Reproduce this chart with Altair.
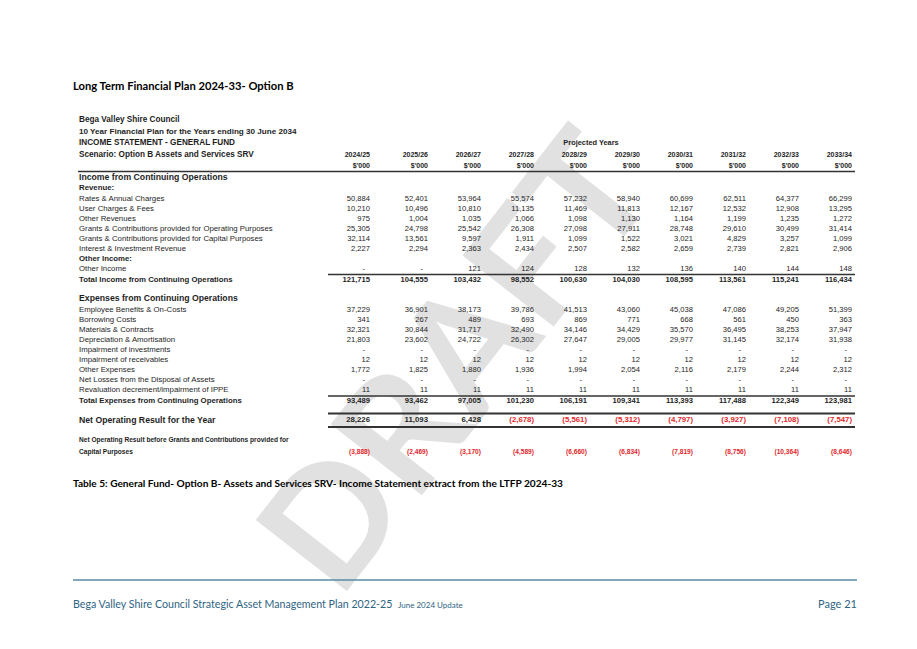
import altair as alt
import pandas as pd

# ---------------- data ----------------
years = ["2024/25", "2025/26", "2026/27", "2027/28", "2028/29",
         "2029/30", "2030/31", "2031/32", "2032/33", "2033/34"]

rates = [50884, 52401, 53964, 55574, 57232, 58940, 60699, 62511, 64377, 66299]
user_fees = [10210, 10496, 10810, 11135, 11469, 11813, 12167, 12532, 12908, 13295]
other_rev = [975, 1004, 1035, 1066, 1098, 1130, 1164, 1199, 1235, 1272]
grants_op = [25305, 24798, 25542, 26308, 27098, 27911, 28748, 29610, 30499, 31414]
grants_cap = [32114, 13561, 9597, 1911, 1099, 1522, 3021, 4829, 3257, 1099]
interest = [2227, 2294, 2363, 2434, 2507, 2582, 2659, 2739, 2821, 2906]
other_income = [0, 0, 121, 124, 128, 132, 136, 140, 144, 148]
total_income = [121715, 104555, 103432, 98552, 100630, 104030, 108595, 113561, 115241, 116434]

employee = [37229, 36901, 38173, 39786, 41513, 43060, 45038, 47086, 49205, 51399]
borrowing = [341, 267, 489, 693, 869, 771, 668, 561, 450, 363]
materials = [32321, 30844, 31717, 32490, 34146, 34429, 35570, 36495, 38253, 37947]
depreciation = [21803, 23602, 24722, 26302, 27647, 29005, 29977, 31145, 32174, 31938]
impair_inv = [0, 0, 0, 0, 0, 0, 0, 0, 0, 0]
impair_rec = [12, 12, 12, 12, 12, 12, 12, 12, 12, 12]
other_exp = [1772, 1825, 1880, 1936, 1994, 2054, 2116, 2179, 2244, 2312]
net_losses = [0, 0, 0, 0, 0, 0, 0, 0, 0, 0]
revaluation = [11, 11, 11, 11, 11, 11, 11, 11, 11, 11]
total_exp = [93489, 93462, 97005, 101230, 106191, 109341, 113393, 117488, 122349, 123981]

net_result = [28226, 11093, 6428, -2678, -5561, -5312, -4797, -3927, -7108, -7547]
net_before_grants = [-3888, -2469, -3170, -4589, -6660, -6834, -7819, -8756, -10364, -8646]

# ---------------- layout ----------------
W, H = 901, 633
LBL_X = 79
def col_right(j):
    return 370 if j == 0 else 428 + 53 * (j - 1)

BODY = "#1e1e1e"
RED = "#e3262a"
TEAL = "#2f6482"

recs = []
def add(layer, x, y, text, size, color=BODY, dx=0):
    recs.append(dict(layer=layer, x=x + dx, y=y, text=text, size=size, color=color))

def fmt(v):
    if v == 0:
        return "-"
    if v < 0:
        return f"({-v:,})"
    return f"{v:,}"

def value_row(y, vals, layer, size):
    for j, v in enumerate(vals):
        add(layer, col_right(j), y, fmt(v), size, RED if v < 0 else BODY,
            dx=-5 if v == 0 else 0)

# page heading
add("cal_b", 73, 87, "Long Term Financial Plan 2024-33- Option B", 11.2, "#000000")

# table header
add("lbl_b", LBL_X, 120, "Bega Valley Shire Council", 8.2)
add("lbl_b", LBL_X, 132, "10 Year Financial Plan for the Years ending 30 June 2034", 8.1)
add("lbl_b", LBL_X, 143, "INCOME STATEMENT - GENERAL FUND", 8.2)
add("lbl_b", LBL_X, 155, "Scenario: Option B Assets and Services SRV", 8.2)
add("ctr_b", 591, 143, "Projected Years", 7.4)
for j, yr in enumerate(years):
    add("num_b", col_right(j), 155, yr, 7.0)
    add("num_b", col_right(j), 166, "$'000", 7.0)

# income
add("lbl_b", LBL_X, 177, "Income from Continuing Operations", 8.7)
add("lbl_b", LBL_X, 188, "Revenue:", 7.8)
income_rows = [
    ("Rates & Annual Charges", rates, 199),
    ("User Charges & Fees", user_fees, 209),
    ("Other Revenues", other_rev, 219),
    ("Grants & Contributions provided for Operating Purposes", grants_op, 229),
    ("Grants & Contributions provided for Capital Purposes", grants_cap, 239),
    ("Interest & Investment Revenue", interest, 249),
]
for lbl, vals, y in income_rows:
    add("lbl", LBL_X, y, lbl, 7.8)
    value_row(y, vals, "num", 7.6)
add("lbl_b", LBL_X, 259, "Other Income:", 7.8)
add("lbl", LBL_X, 269, "Other Income", 7.8)
value_row(269, other_income, "num", 7.6)
add("lbl_b", LBL_X, 280, "Total Income from Continuing Operations", 7.8)
value_row(280, total_income, "num_b", 7.6)

# expenses
add("lbl_b", LBL_X, 298, "Expenses from Continuing Operations", 8.7)
exp_rows = [
    ("Employee Benefits & On-Costs", employee, 310),
    ("Borrowing Costs", borrowing, 320),
    ("Materials & Contracts", materials, 330),
    ("Depreciation & Amortisation", depreciation, 340),
    ("Impairment of investments", impair_inv, 350),
    ("Impairment of receivables", impair_rec, 360),
    ("Other Expenses", other_exp, 370),
    ("Net Losses from the Disposal of Assets", net_losses, 380),
    ("Revaluation decrement/impairment of IPPE", revaluation, 390),
]
for lbl, vals, y in exp_rows:
    add("lbl", LBL_X, y, lbl, 7.8)
    value_row(y, vals, "num", 7.6)
add("lbl_b", LBL_X, 401, "Total Expenses from Continuing Operations", 7.8)
value_row(401, total_exp, "num_b", 7.6)

add("lbl_b", LBL_X, 420, "Net Operating Result for the Year", 8.7)
value_row(420, net_result, "num_b", 7.8)

add("lbl_b", LBL_X, 440, "Net Operating Result before Grants and Contributions provided for", 6.6)
add("lbl_b", LBL_X, 452, "Capital Purposes", 6.6)
value_row(452, net_before_grants, "num_b", 6.6)

# caption + footer
add("cal_b", 73, 484, "Table 5: General Fund- Option B- Assets and Services SRV- Income Statement extract from the LTFP 2024-33", 10.15, "#000000")
add("cal", 73, 605, "Bega Valley Shire Council Strategic Asset Management Plan 2022-25", 10.65, TEAL)
add("cal", 398, 606, "June 2024 Update", 8.0, TEAL)
add("cal_r", 857, 605, "Page 21", 11.0, TEAL)

df = pd.DataFrame(recs)

rules = pd.DataFrame([
    dict(x=78, x2=855, y=171.5, w=1.4, color="#333333"),
    dict(x=328, x2=855, y=274.5, w=1.4, color="#333333"),
    dict(x=328, x2=855, y=396, w=1.4, color="#333333"),
    dict(x=328, x2=855, y=413.5, w=2.0, color="#333333"),
    dict(x=328, x2=855, y=427, w=2.0, color="#333333"),
    dict(x=73, x2=857, y=580, w=1.5, color="#5d8aa3"),
])

xs = alt.Scale(domain=[8, 8 + W])
ys = alt.Scale(domain=[8, 8 + H], reverse=True)

def enc(ch):
    return ch.encode(
        x=alt.X("x:Q", scale=xs, axis=None),
        y=alt.Y("y:Q", scale=ys, axis=None),
        text="text:N",
        size=alt.Size("size:Q", scale=None, legend=None),
        color=alt.Color("color:N", scale=None, legend=None),
    )

styles = {
    "lbl": dict(align="left", font="Liberation Sans", fontWeight="normal"),
    "lbl_b": dict(align="left", font="Liberation Sans", fontWeight="bold"),
    "num": dict(align="right", font="Liberation Sans", fontWeight="normal"),
    "num_b": dict(align="right", font="Liberation Sans", fontWeight="bold"),
    "ctr_b": dict(align="center", font="Liberation Sans", fontWeight="bold"),
    "cal": dict(align="left", font="Lato", fontWeight="normal"),
    "cal_b": dict(align="left", font="Lato", fontWeight="bold"),
    "cal_r": dict(align="right", font="Lato", fontWeight="normal"),
}

watermark = alt.Chart(pd.DataFrame([dict(x=462, y=366, text="DRAFT")])).mark_text(
    font="Lato", fontWeight="bold", fontSize=160, angle=308,
    color="#c4c4c4", opacity=0.5, align="center", baseline="middle"
).encode(
    x=alt.X("x:Q", scale=xs, axis=None),
    y=alt.Y("y:Q", scale=ys, axis=None),
    text="text:N",
)

layers = [watermark]
layers.append(
    alt.Chart(rules).mark_rule().encode(
        x=alt.X("x:Q", scale=xs, axis=None),
        x2="x2:Q",
        y=alt.Y("y:Q", scale=ys, axis=None),
        strokeWidth=alt.StrokeWidth("w:Q", scale=None, legend=None),
        color=alt.Color("color:N", scale=None, legend=None),
    )
)
for key, st in styles.items():
    sub = df[df.layer == key]
    if len(sub) == 0:
        continue
    layers.append(enc(alt.Chart(sub).mark_text(baseline="middle", **st)))

chart = alt.layer(*layers).properties(
    width=W, height=H, autosize=alt.AutoSizeParams(type="none"), padding=0,
    background="white"
).configure_view(stroke=None)

chart.save("out.html", embed_options={"renderer": "svg", "actions": False})
